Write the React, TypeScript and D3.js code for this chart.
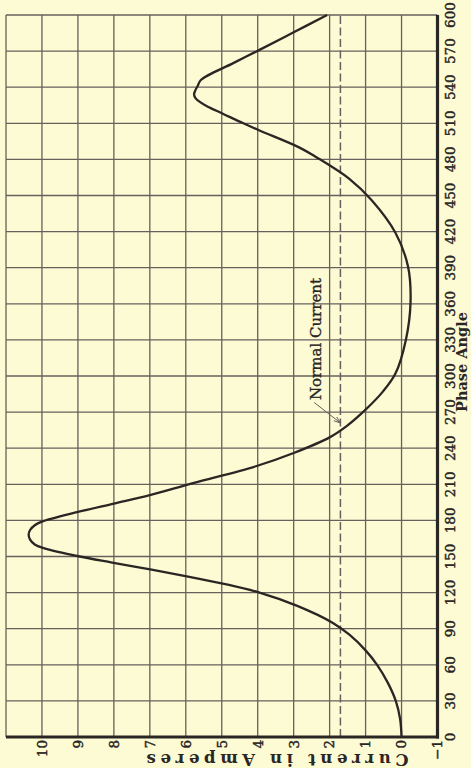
import React from "react";
import * as d3 from "d3";

const phaseTicks = [0, 30, 60, 90, 120, 150, 180, 210, 240, 270, 300, 330, 360, 390, 420, 450, 480, 510, 540, 570, 600];
const currentTicks = [-1, 0, 1, 2, 3, 4, 5, 6, 7, 8, 9, 10];
const currentGrid = [-1, 0, 1, 2, 3, 4, 5, 6, 7, 8, 9, 10, 11];

const phaseDeg = [0, 15, 30, 45, 60, 72, 85, 95, 109, 120, 127, 133, 139, 145, 150, 157, 160, 164, 168, 172, 176, 179, 187, 194, 201, 211, 225, 236, 249, 259, 272, 287, 302, 330, 361, 391, 419, 446, 464, 482, 490, 504, 510, 518, 524, 528, 531, 534, 537, 541, 546, 560, 571, 585, 600];
const currentAmp = [0, 0.04, 0.16, 0.38, 0.68, 1.0, 1.45, 1.92, 2.9, 3.95, 4.9, 5.9, 6.95, 8.05, 8.95, 9.95, 10.2, 10.33, 10.37, 10.33, 10.2, 10.0, 9.0, 8.0, 7.0, 5.8, 4.05, 3.0, 2.0, 1.5, 1.0, 0.52, 0.17, -0.12, -0.25, -0.18, 0.17, 0.83, 1.46, 2.38, 2.85, 3.95, 4.4, 4.97, 5.4, 5.62, 5.73, 5.77, 5.74, 5.67, 5.58, 4.68, 3.95, 3.04, 2.07];

const normalCurrent = 1.7;
const annotationText = "Normal Current";
const annotationTextAt = [280, 2.24];
const arrowFrom = [278, 2.43];
const arrowTo = [261, normalCurrent];

const W = 471;
const H = 768;
const BG = "#fcfbd4";
const GRID = "#66615c";
const INK = "#2a2624";

export default function App() {
  // chart drawn in landscape frame (u horizontal 0..768, v vertical 0..471), then rotated -90deg
  const x = d3.scaleLinear().domain([0, 600]).range([31, 753]);
  const y = d3.scaleLinear().domain([-1, 11]).range([437.5, 6]);

  const pts = phaseDeg.map((p, i) => [p, currentAmp[i]] as [number, number]);
  const line = d3
    .line<[number, number]>()
    .x((d) => x(d[0]))
    .y((d) => y(d[1]))
    .curve(d3.curveCatmullRom.alpha(0.5));

  const font = "'DejaVu Serif', 'Liberation Serif', serif";

  const ax = x(arrowFrom[0]);
  const ay = y(arrowFrom[1]);
  const bx = x(arrowTo[0]);
  const by = y(arrowTo[1]);
  const ang = Math.atan2(by - ay, bx - ax);
  const hl = 7;
  const hw = 0.35;
  const h1 = [bx - hl * Math.cos(ang - hw), by - hl * Math.sin(ang - hw)];
  const h2 = [bx - hl * Math.cos(ang + hw), by - hl * Math.sin(ang + hw)];

  return (
    <svg
      width={W}
      height={H}
      style={{ position: "absolute", left: 0, top: 0, background: BG }}
    >
      <rect x={0} y={0} width={W} height={H} fill={BG} />
      <g transform={`translate(0,${H}) rotate(-90)`}>
        {/* grid: vertical lines (phase) */}
        {phaseTicks.map((p) => (
          <line
            key={"vp" + p}
            x1={x(p)}
            x2={x(p)}
            y1={y(11)}
            y2={y(-1)}
            stroke={GRID}
            strokeWidth={1.3}
          />
        ))}
        {/* grid: horizontal lines (current) */}
        {currentGrid.map((c) => (
          <line
            key={"hc" + c}
            x1={x(0)}
            x2={x(600)}
            y1={y(c)}
            y2={y(c)}
            stroke={GRID}
            strokeWidth={1.3}
          />
        ))}
        {/* normal current dashed line */}
        <line
          x1={x(0)}
          x2={x(600)}
          y1={y(normalCurrent)}
          y2={y(normalCurrent)}
          stroke={GRID}
          strokeWidth={1.5}
          strokeDasharray="8,3.5"
        />
        {/* axes (thick) */}
        <line x1={x(0) - 1.5} x2={x(600)} y1={y(-1)} y2={y(-1)} stroke={INK} strokeWidth={3.2} />
        <line x1={x(0)} x2={x(0)} y1={y(11)} y2={y(-1) + 1.5} stroke={INK} strokeWidth={3.2} />

        {/* curve */}
        <path d={line(pts) || ""} fill="none" stroke={INK} strokeWidth={2.3} strokeLinejoin="round" />

        {/* annotation */}
        <text
          x={x(annotationTextAt[0])}
          y={y(annotationTextAt[1])}
          fontFamily={font}
          fontSize={15}
          fill={INK}
          stroke={INK}
          strokeWidth={0.35}
        >
          {annotationText}
        </text>
        <line x1={ax} y1={ay} x2={bx} y2={by} stroke={GRID} strokeWidth={1} />
        <path
          d={`M${h1[0]},${h1[1]} L${bx},${by} L${h2[0]},${h2[1]}`}
          fill="none"
          stroke={GRID}
          strokeWidth={1}
        />

        {/* phase tick labels */}
        {phaseTicks.map((p) => (
          <text
            key={"tp" + p}
            x={x(p)}
            y={455}
            textAnchor="middle"
            fontFamily={font}
            fontSize={13.5}
            fill={INK}
            stroke={INK}
            strokeWidth={0.45}
          >
            {p}
          </text>
        ))}
        {/* current tick labels */}
        {currentTicks.map((c) => (
          <text
            key={"tc" + c}
            x={28}
            y={y(c)}
            dy="0.36em"
            textAnchor="end"
            fontFamily={font}
            fontSize={13.5}
            fill={INK}
            stroke={INK}
            strokeWidth={0.45}
          >
            {c < 0 ? "\u2212" + Math.abs(c) : c}
          </text>
        ))}

        {/* axis titles */}
        <text
          x={406}
          y={467}
          textAnchor="middle"
          fontFamily={font}
          fontWeight="bold"
          fontSize={14.5}
          fill={INK}
        >
          Phase Angle
        </text>
        <text
          transform={`translate(14,${(y(-0.2) + y(7.1)) / 2}) rotate(-90)`}
          textAnchor="middle"
          fontFamily={font}
          fontWeight="bold"
          fontSize={16.5}
          textLength={262}
          lengthAdjust="spacing"
          fill={INK}
        >
          Current in Amperes
        </text>
      </g>
    </svg>
  );
}
